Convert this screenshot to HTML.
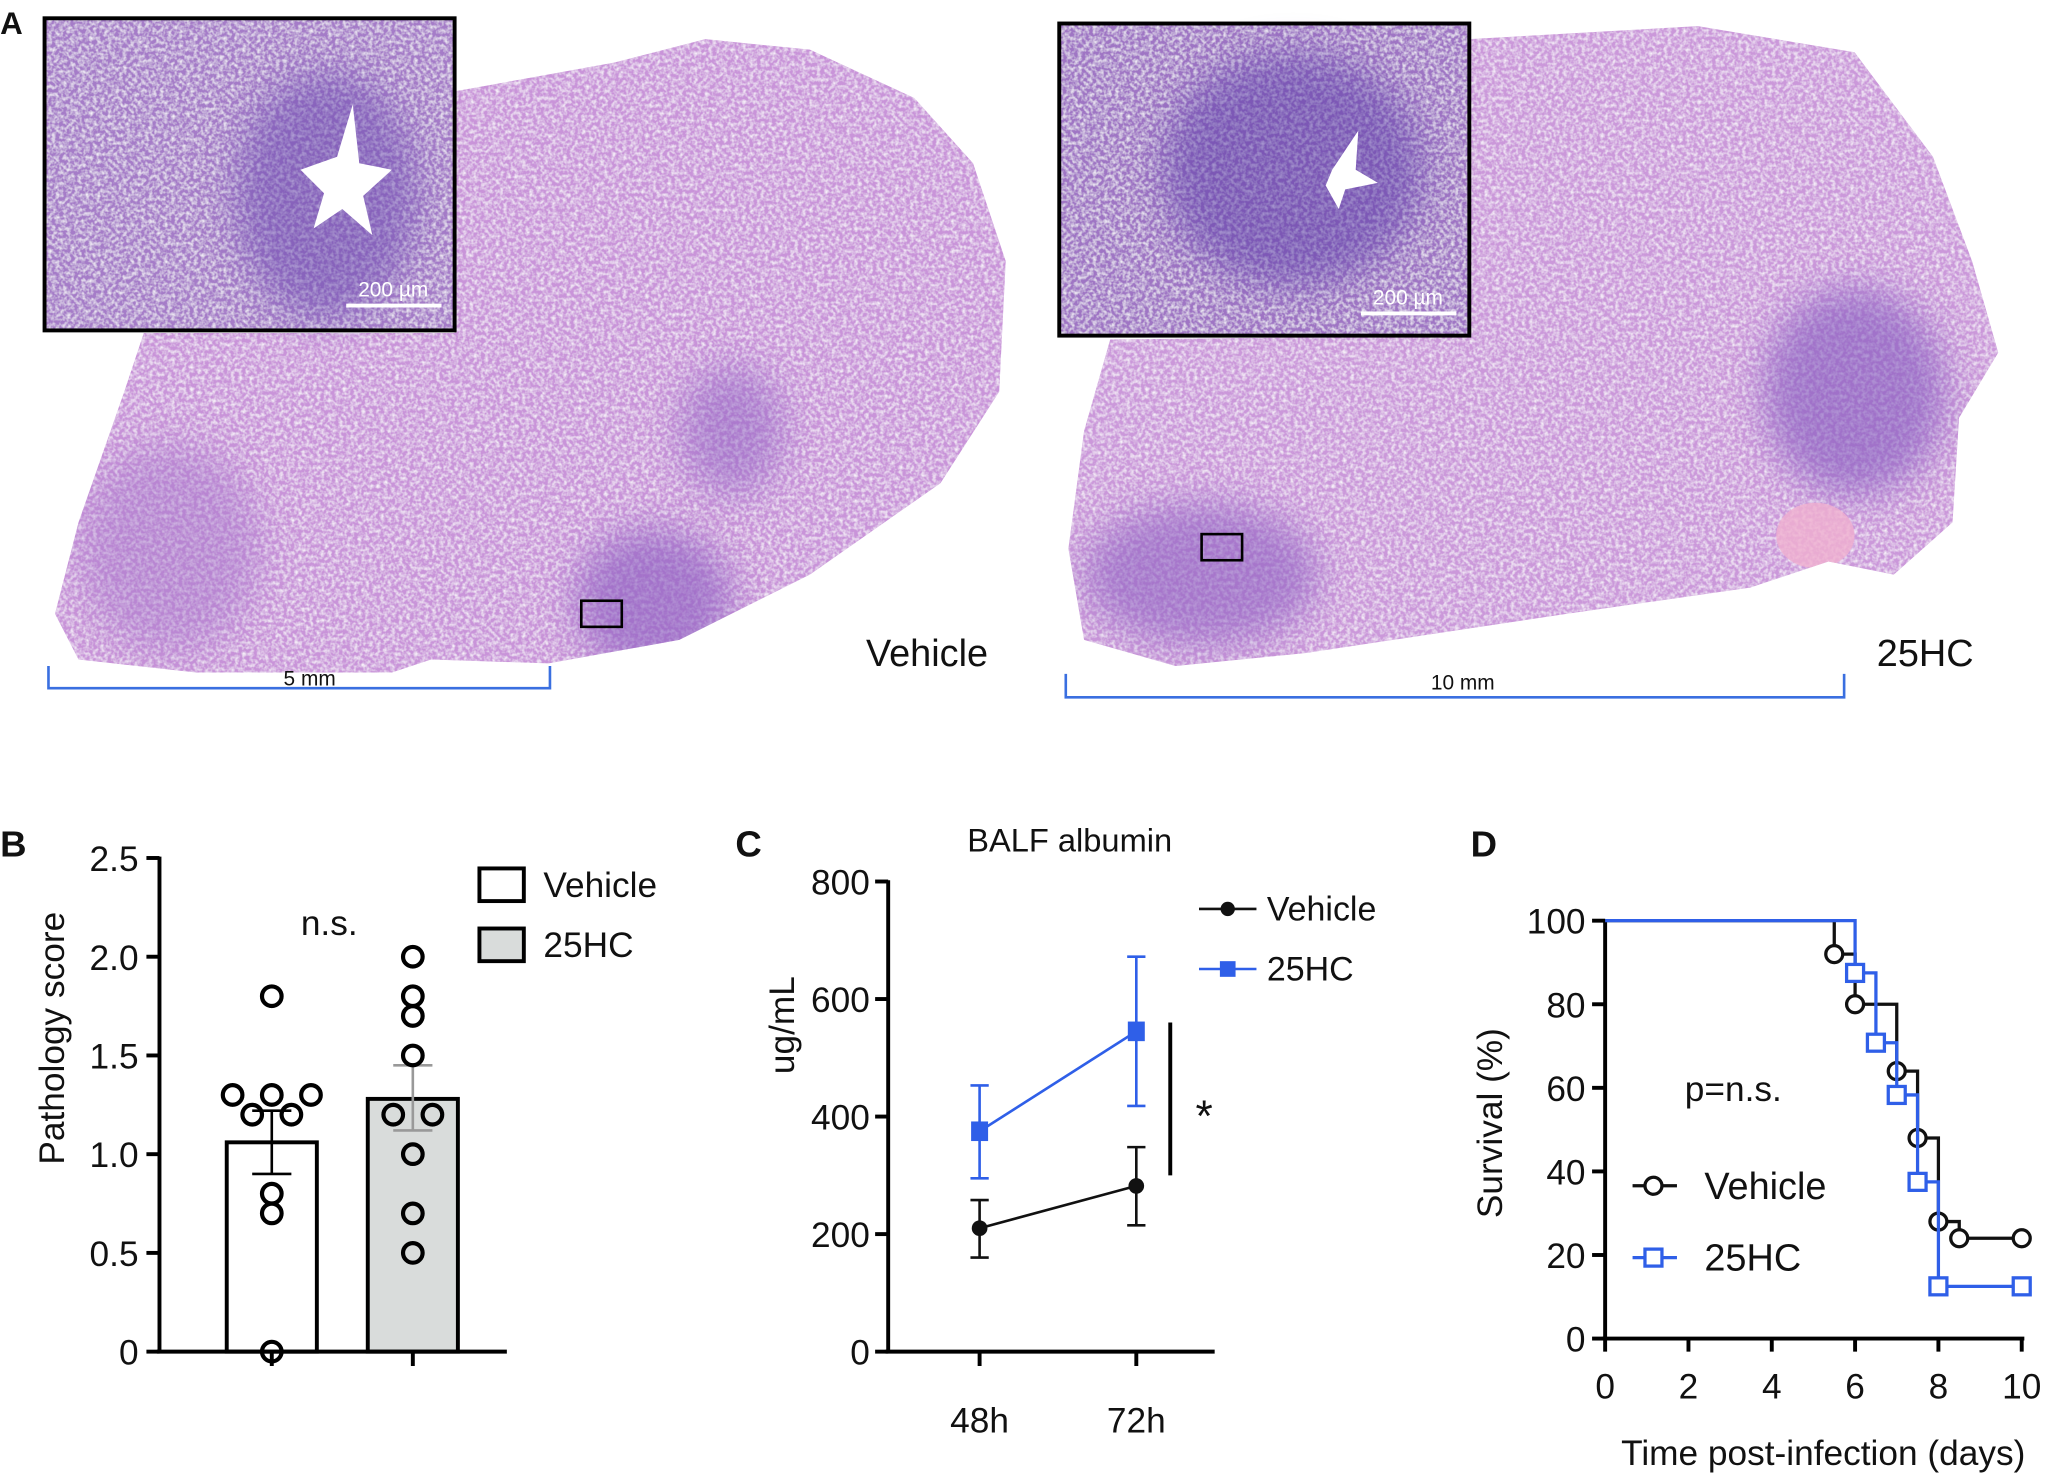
<!DOCTYPE html>
<html><head><meta charset="utf-8">
<style>
html,body{margin:0;padding:0;background:#fff;}
svg{display:block;}
text{font-family:"Liberation Sans",sans-serif;fill:#111;}
</style></head>
<body>
<svg id="fig" xmlns="http://www.w3.org/2000/svg" width="2048" height="1477" viewBox="0 0 1568 1131">
<defs>
<filter id="tex" x="0" y="0" width="100%" height="100%">
<feTurbulence type="fractalNoise" baseFrequency="0.35" numOctaves="2" seed="3" result="n"/>
<feColorMatrix in="n" type="matrix" values="0 0 0 0 1  0 0 0 0 1  0 0 0 0 1  0 0 0 -1.6 1.0" result="w"/>
<feComposite in="w" in2="SourceGraphic" operator="in" result="wi"/>
<feMerge><feMergeNode in="SourceGraphic"/><feMergeNode in="wi"/></feMerge>
</filter>
<filter id="blur" x="-50%" y="-50%" width="200%" height="200%"><feGaussianBlur stdDeviation="14"/></filter>
<clipPath id="clipL"><path d="M348 70 L470 48 L540 30 L620 38 L700 75 L745 125 L770 200 L765 300 L720 370 L620 440 L520 490 L420 508 L330 505 L300 515 L150 515 L60 505 L42 470 L60 400 L95 300 L110 255 L348 255 Z"/></clipPath>
<clipPath id="clipR"><path d="M1125 30 L1300 20 L1420 40 L1480 120 L1510 200 L1530 270 L1500 320 L1495 400 L1450 440 L1400 430 L1340 450 L1200 470 L1000 500 L900 510 L830 490 L818 420 L830 330 L850 260 L1125 257 Z"/></clipPath>
</defs>

<!-- Panel A -->
<g>
<text x="0" y="26" font-size="24" font-weight="bold">A</text>
<g>
<path d="M348 70 L470 48 L540 30 L620 38 L700 75 L745 125 L770 200 L765 300 L720 370 L620 440 L520 490 L420 508 L330 505 L300 515 L150 515 L60 505 L42 470 L60 400 L95 300 L110 255 L348 255 Z" fill="#c994d9" filter="url(#tex)"/>
<g clip-path="url(#clipL)">
<ellipse cx="500" cy="460" rx="60" ry="55" fill="#8a5cc0" opacity="0.6" filter="url(#blur)"/>
<ellipse cx="560" cy="330" rx="40" ry="50" fill="#8a5cc0" opacity="0.45" filter="url(#blur)"/>
<ellipse cx="130" cy="420" rx="70" ry="80" fill="#a070c8" opacity="0.4" filter="url(#blur)"/>
</g>
<rect x="445" y="460" width="31" height="20" fill="none" stroke="#000" stroke-width="2"/>
</g>
<g>
<rect x="34" y="14" width="314" height="239" fill="#a57cc8" filter="url(#tex)"/>
<ellipse cx="250" cy="150" rx="70" ry="95" fill="#6a4ab0" opacity="0.5" filter="url(#blur)"/>
<path d="M258 120 L270 80 L275 125 L300 130 L278 150 L285 180 L262 160 L240 175 L248 148 L230 130 Z" fill="#fff"/>
<rect x="34" y="14" width="314" height="239" fill="none" stroke="#000" stroke-width="3"/>
<line x1="265" y1="234" x2="338" y2="234" stroke="#fff" stroke-width="3"/>
<text x="301" y="227" font-size="16" text-anchor="middle" style="fill:#fff">200 µm</text>
</g>
<text x="663" y="510" font-size="29">Vehicle</text>
<g>
<path d="M37 510 V527 H421 V510" fill="none" stroke="#3a6fe0" stroke-width="2"/>
<text x="237" y="525" font-size="16" text-anchor="middle">5 mm</text>
</g>
<g>
<path d="M1125 30 L1300 20 L1420 40 L1480 120 L1510 200 L1530 270 L1500 320 L1495 400 L1450 440 L1400 430 L1340 450 L1200 470 L1000 500 L900 510 L830 490 L818 420 L830 330 L850 260 L1125 257 Z" fill="#cb98da" filter="url(#tex)"/>
<g clip-path="url(#clipR)">
<ellipse cx="920" cy="440" rx="90" ry="55" fill="#8a5cc0" opacity="0.55" filter="url(#blur)"/>
<ellipse cx="1420" cy="300" rx="70" ry="80" fill="#7e52bc" opacity="0.55" filter="url(#blur)"/>
<ellipse cx="1390" cy="410" rx="30" ry="25" fill="#f0b0d0" opacity="0.8"/>
</g>
<rect x="920" y="409" width="31" height="20" fill="none" stroke="#000" stroke-width="2"/>
</g>
<g>
<rect x="811" y="18" width="314" height="239" fill="#9f74c4" filter="url(#tex)"/>
<ellipse cx="990" cy="130" rx="100" ry="90" fill="#5a3aa8" opacity="0.5" filter="url(#blur)"/>
<path d="M1020 130 L1040 100 L1038 130 L1055 140 L1030 145 L1025 160 L1015 142 Z" fill="#fff"/>
<rect x="811" y="18" width="314" height="239" fill="none" stroke="#000" stroke-width="3"/>
<line x1="1042" y1="240" x2="1115" y2="240" stroke="#fff" stroke-width="3"/>
<text x="1078" y="233" font-size="16" text-anchor="middle" style="fill:#fff">200 µm</text>
</g>
<text x="1437" y="510" font-size="29">25HC</text>
<g>
<path d="M816 516 V534 H1412 V516" fill="none" stroke="#3a6fe0" stroke-width="2"/>
<text x="1120" y="528" font-size="16" text-anchor="middle">10 mm</text>
</g>
</g>

<g id="panelB"></g>
<g id="panelC"></g>
<g id="panelD"></g>
</svg>

<script>
// ---------- Panel B data ----------
const bGroups = ["Vehicle", "25HC"];
const bMeans = [1.06, 1.28];
const bSemLo = [0.90, 1.12];
const bSemHi = [1.22, 1.45];
const bVehiclePoints = [1.8, 1.3, 1.3, 1.3, 1.2, 1.2, 0.8, 0.7, 0];
const bVehicleOffsets = [0, -1, 0, 1, -0.5, 0.5, 0, 0, 0];
const b25hcPoints = [2.0, 1.8, 1.7, 1.5, 1.2, 1.2, 1.0, 0.7, 0.5];
const b25hcOffsets = [0, 0, 0, 0, -0.5, 0.5, 0, 0, 0];
const bTicks = [0, 0.5, 1.0, 1.5, 2.0, 2.5];
const bTickLabels = ["0", "0.5", "1.0", "1.5", "2.0", "2.5"];

// ---------- Panel C data ----------
const cCategories = ["48h", "72h"];
const cVehicle = [210, 282];
const cVehicleLo = [160, 215];
const cVehicleHi = [258, 348];
const c25hc = [375, 545];
const c25hcLo = [295, 418];
const c25hcHi = [453, 672];
const cTicks = [0, 200, 400, 600, 800];

// ---------- Panel D data ----------
const dVehicleT = [0, 5.5, 6, 7, 7.5, 8, 8.5, 10];
const dVehicleS = [100, 92, 80, 64, 48, 28, 24, 24];
const d25hcT = [0, 6, 6.5, 7, 7.5, 8, 10];
const d25hcS = [100, 87.5, 70.8, 58.3, 37.5, 12.5, 12.5];
const dYTicks = [0, 20, 40, 60, 80, 100];
const dXTicks = [0, 2, 4, 6, 8, 10];

const NS = "http://www.w3.org/2000/svg";
function mk(parent, tag, attrs, text) {
  const e = document.createElementNS(NS, tag);
  for (const k in attrs) e.setAttribute(k, attrs[k]);
  if (text !== undefined) e.textContent = text;
  parent.appendChild(e);
  return e;
}

// ===== Panel B =====
(function(){
  const g = document.getElementById("panelB");
  const y = v => 1035 - v / 2.5 * 378;
  const bx = [208, 316];
  const bw = 69;
  const t = mk(g, "text", {x: 0, y: 656, "font-size": 28, "font-weight": "bold"}, "B");
  
  
  const yl = mk(g, "text", {x: 0, y: 0, "font-size": 27, "text-anchor": "middle", transform: "translate(49,795) rotate(-90)"}, "Pathology score");
  
  
  bTicks.forEach((v, i) => {
    mk(g, "line", {x1: 112, x2: 122, y1: y(v), y2: y(v), stroke: "#000", "stroke-width": 3});
    const tl = mk(g, "text", {x: 106, y: y(v) + 10, "font-size": 27, "text-anchor": "end"}, bTickLabels[i]);
    
    
  });
  bGroups.forEach((name, i) => {
    const r = mk(g, "rect", {x: bx[i] - bw/2, y: y(bMeans[i]), width: bw, height: y(0) - y(bMeans[i]), fill: i ? "#d9dcdb" : "#fff", stroke: "#000", "stroke-width": 3});
    
    
    const ec = i ? "#999" : "#000";
    mk(g, "line", {x1: bx[i], x2: bx[i], y1: y(bSemLo[i]), y2: y(bSemHi[i]), stroke: ec, "stroke-width": 2});
    mk(g, "line", {x1: bx[i]-15, x2: bx[i]+15, y1: y(bSemLo[i]), y2: y(bSemLo[i]), stroke: ec, "stroke-width": 2});
    mk(g, "line", {x1: bx[i]-15, x2: bx[i]+15, y1: y(bSemHi[i]), y2: y(bSemHi[i]), stroke: ec, "stroke-width": 2});
    mk(g, "line", {x1: bx[i], x2: bx[i], y1: y(0), y2: y(0) + 11, stroke: "#000", "stroke-width": 3});
  });
  mk(g, "line", {x1: 122, x2: 122, y1: y(2.5) - 1, y2: y(0) + 1, stroke: "#000", "stroke-width": 3});
  mk(g, "line", {x1: 120, x2: 388, y1: y(0), y2: y(0), stroke: "#000", "stroke-width": 3});
  const pts = [[bVehiclePoints, bVehicleOffsets], [b25hcPoints, b25hcOffsets]];
  pts.forEach((p, i) => {
    p[0].forEach((v, j) => {
      const c = mk(g, "circle", {cx: bx[i] + p[1][j] * 30, cy: y(v), r: 7.5, fill: "none", stroke: "#000", "stroke-width": 3.2});
      
      
    });
  });
  const ns = mk(g, "text", {x: 252, y: 716, "font-size": 27, "text-anchor": "middle"}, "n.s.");
  
  
  bGroups.forEach((name, i) => {
    const ly = 665 + i * 46;
    const lb = mk(g, "rect", {x: 367, y: ly, width: 34, height: 25, fill: i ? "#d9dcdb" : "#fff", stroke: "#000", "stroke-width": 3});
    
    
    const lt = mk(g, "text", {x: 416, y: ly + 22, "font-size": 27}, name);
    
    
  });
})();

// ===== Panel C =====
(function(){
  const g = document.getElementById("panelC");
  const y = v => 1035 - v / 800 * 360;
  const x = i => 750 + i * 120;
  const t = mk(g, "text", {x: 563, y: 656, "font-size": 28, "font-weight": "bold"}, "C");
  
  
  const tt = mk(g, "text", {x: 819, y: 652, "font-size": 25, "text-anchor": "middle"}, "BALF albumin");
  
  
  const yl = mk(g, "text", {x: 0, y: 0, "font-size": 27, "text-anchor": "middle", transform: "translate(608,785) rotate(-90)"}, "ug/mL");
  
  
  cTicks.forEach(v => {
    mk(g, "line", {x1: 670, x2: 680, y1: y(v), y2: y(v), stroke: "#000", "stroke-width": 3});
    const tl = mk(g, "text", {x: 666, y: y(v) + 10, "font-size": 27, "text-anchor": "end"}, String(v));
    
    
  });
  mk(g, "line", {x1: 680, x2: 680, y1: y(800) - 1, y2: y(0) + 1, stroke: "#000", "stroke-width": 3});
  mk(g, "line", {x1: 678, x2: 930, y1: y(0), y2: y(0), stroke: "#000", "stroke-width": 3});
  cCategories.forEach((c, i) => {
    mk(g, "line", {x1: x(i), x2: x(i), y1: y(0), y2: y(0) + 11, stroke: "#000", "stroke-width": 3});
    const tl = mk(g, "text", {x: x(i), y: y(0) + 62, "font-size": 27, "text-anchor": "middle"}, c);
    
    
  });
  const series = [[cVehicle, cVehicleLo, cVehicleHi, "#111", "circle", "vehicle"], [c25hc, c25hcLo, c25hcHi, "#2f5fe8", "square", "25hc"]];
  series.forEach(s => {
    const [vals, lo, hi, col, shape, nm] = s;
    const l = mk(g, "polyline", {points: vals.map((v, i) => x(i) + "," + y(v)).join(" "), fill: "none", stroke: col, "stroke-width": 2});
    
    
    vals.forEach((v, i) => {
      mk(g, "line", {x1: x(i), x2: x(i), y1: y(lo[i]), y2: y(hi[i]), stroke: col, "stroke-width": 2});
      mk(g, "line", {x1: x(i)-7, x2: x(i)+7, y1: y(lo[i]), y2: y(lo[i]), stroke: col, "stroke-width": 2});
      mk(g, "line", {x1: x(i)-7, x2: x(i)+7, y1: y(hi[i]), y2: y(hi[i]), stroke: col, "stroke-width": 2});
      let m;
      if (shape === "circle") m = mk(g, "circle", {cx: x(i), cy: y(v), r: 6, fill: col});
      else m = mk(g, "rect", {x: x(i) - 6.5, y: y(v) - 7.5, width: 13, height: 15, fill: col});
      
      
    });
  });
  mk(g, "line", {x1: 896, x2: 896, y1: 783, y2: 900, stroke: "#000", "stroke-width": 3});
  const st = mk(g, "text", {x: 922, y: 866, "font-size": 34, "text-anchor": "middle"}, "*");
  
  
  [["Vehicle", "#111", "circle", 696], ["25HC", "#2f5fe8", "square", 742]].forEach(L => {
    mk(g, "line", {x1: 918, x2: 962, y1: L[3], y2: L[3], stroke: L[1], "stroke-width": 2});
    if (L[2] === "circle") mk(g, "circle", {cx: 940, cy: L[3], r: 5.5, fill: L[1]});
    else mk(g, "rect", {x: 934, y: L[3] - 6, width: 12, height: 12, fill: L[1]});
    const lt = mk(g, "text", {x: 970, y: L[3] + 9, "font-size": 26}, L[0]);
    
    
  });
})();

// ===== Panel D =====
(function(){
  const g = document.getElementById("panelD");
  const x = v => 1229 + v / 10 * 319;
  const y = v => 1025 - v / 100 * 320;
  const t = mk(g, "text", {x: 1126, y: 656, "font-size": 28, "font-weight": "bold"}, "D");
  
  
  const yl = mk(g, "text", {x: 0, y: 0, "font-size": 27, "text-anchor": "middle", transform: "translate(1150,860) rotate(-90)"}, "Survival (%)");
  
  
  const xl = mk(g, "text", {x: 1396, y: 1122, "font-size": 27, "text-anchor": "middle"}, "Time post-infection (days)");
  
  
  dYTicks.forEach(v => {
    mk(g, "line", {x1: 1219, x2: 1229, y1: y(v), y2: y(v), stroke: "#000", "stroke-width": 3});
    const tl = mk(g, "text", {x: 1214, y: y(v) + 10, "font-size": 27, "text-anchor": "end"}, String(v));
    
    
  });
  dXTicks.forEach(v => {
    mk(g, "line", {x1: x(v), x2: x(v), y1: y(0), y2: y(0) + 10, stroke: "#000", "stroke-width": 3});
    const tl = mk(g, "text", {x: x(v), y: y(0) + 46, "font-size": 27, "text-anchor": "middle"}, String(v));
    
    
  });
  mk(g, "line", {x1: 1229, x2: 1229, y1: y(100) - 1, y2: y(0) + 1, stroke: "#000", "stroke-width": 3});
  mk(g, "line", {x1: 1227, x2: x(10) + 2, y1: y(0), y2: y(0), stroke: "#000", "stroke-width": 3});
  function step(T, S) {
    let d = "M" + x(T[0]) + " " + y(S[0]);
    for (let i = 1; i < T.length; i++) d += " H" + x(T[i]) + " V" + y(S[i]);
    return d;
  }
  const series = [[dVehicleT, dVehicleS, "#111", "circle", "vehicle"], [d25hcT, d25hcS, "#2f5fe8", "square", "25hc"]];
  series.forEach(s => {
    const [T, S, col, shape, nm] = s;
    const p = mk(g, "path", {d: step(T, S), fill: "none", stroke: col, "stroke-width": 2.5});
    
    
    for (let i = 1; i < T.length; i++) {
      let m;
      if (shape === "circle") m = mk(g, "circle", {cx: x(T[i]), cy: y(S[i]), r: 6.5, fill: "#fff", stroke: col, "stroke-width": 2.5});
      else m = mk(g, "rect", {x: x(T[i]) - 6.5, y: y(S[i]) - 6.5, width: 13, height: 13, fill: "#fff", stroke: col, "stroke-width": 2.5});
      
      
    }
  });
  const pn = mk(g, "text", {x: 1290, y: 843, "font-size": 27}, "p=n.s.");
  
  
  [["Vehicle", "#111", "circle", 908], ["25HC", "#2f5fe8", "square", 963]].forEach(L => {
    mk(g, "line", {x1: 1250, x2: 1284, y1: L[3], y2: L[3], stroke: L[1], "stroke-width": 2.5});
    if (L[2] === "circle") mk(g, "circle", {cx: 1266, cy: L[3], r: 6.5, fill: "#fff", stroke: L[1], "stroke-width": 2.5});
    else mk(g, "rect", {x: 1259.5, y: L[3] - 6.5, width: 13, height: 13, fill: "#fff", stroke: L[1], "stroke-width": 2.5});
    const lt = mk(g, "text", {x: 1305, y: L[3] + 10, "font-size": 29}, L[0]);
    
    
  });
})();
</script>
</body></html>
